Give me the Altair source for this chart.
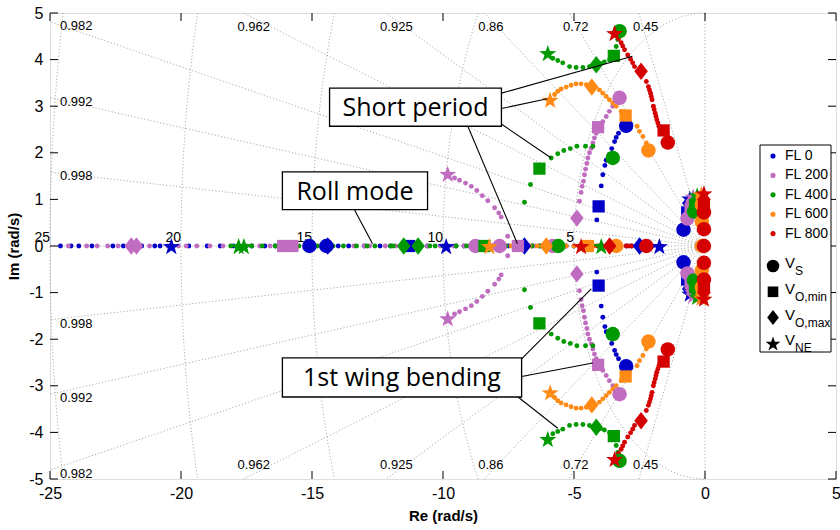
import numpy as np
import pandas as pd
import altair as alt

# plot area size in px
W, H = 786, 466

FLIGHT_LEVELS = ["FL 0", "FL 200", "FL 400", "FL 600", "FL 800"]
FL_COLORS = ["#0000c8", "#c06cc0", "#009a00", "#ff8a14", "#d50000"]
SPEEDS = ["V_S", "V_O,min", "V_O,max", "V_NE"]
MARKER_SIZE = {"V_S": 210, "V_O,min": 150, "V_O,max": 300, "V_NE": 320}

# ---- root-locus dots, upper half plane and real axis (Re, Im); conjugates added below
LOCUS_FL0 = [(-3.30, 2.42), (-3.39, 2.33), (-3.45, 2.24), (-3.56, 2.09), (-3.65, 1.96), (-3.77, 1.84),
             (-3.82, 1.73), (-3.90, 1.53), (-3.96, 1.29), (-4.13, 0.56),
             (-24.6, 0), (-24.2, 0), (-23.9, 0), (-23.4, 0), (-22.6, 0), (-22.2, 0), (-21.5, 0), (-21.0, 0),
             (-20.8, 0), (-19.7, 0), (-19.0, 0), (-18.5, 0), (-18.0, 0), (-17.3, 0), (-16.8, 0), (-16.4, 0),
             (-14.0, 0), (-13.6, 0), (-13.0, 0), (-12.4, 0), (-12.0, 0), (-11.0, 0), (-10.6, 0), (-9.5, 0),
             (-9.2, 0), (-8.9, 0), (-8.6, 0), (-8.1, 0), (-7.8, 0), (-7.5, 0), (-7.0, 0), (-6.6, 0),
             (-6.3, 0), (-5.6, 0), (-5.3, 0), (-5.0, 0), (-4.6, 0), (-4.3, 0), (-4.0, 0), (-3.6, 0),
             (-3.3, 0), (-3.0, 0), (-2.8, 0), (-2.2, 0), (-2.0, 0),
             (-0.78, 0.45), (-0.74, 0.55), (-0.70, 0.65), (-0.66, 0.80), (-0.62, 0.92)]
LOCUS_FL200 = [(-3.52, 3.00), (-3.65, 2.89), (-3.77, 2.78), (-3.90, 2.67), (-4.15, 2.42), (-4.22, 2.32),
               (-4.28, 2.21), (-4.34, 2.10), (-4.41, 2.00), (-4.47, 1.89), (-4.51, 1.77), (-4.56, 1.65),
               (-4.60, 1.53), (-4.64, 1.39), (-4.69, 1.28), (-4.73, 1.15), (-4.79, 0.96),
               (-9.56, 1.46), (-9.37, 1.41), (-9.14, 1.35), (-8.92, 1.28), (-8.71, 1.19), (-8.50, 1.08),
               (-8.29, 0.97), (-8.03, 0.82), (-7.87, 0.71), (-7.78, 0.62), (-7.53, 0.21),
               (-24.3, 0), (-23.6, 0), (-23.2, 0), (-22.8, 0), (-22.4, 0), (-21.2, 0), (-20.5, 0), (-20.1, 0),
               (-19.8, 0), (-19.4, 0), (-18.9, 0), (-18.4, 0), (-17.5, 0), (-17.0, 0), (-16.6, 0), (-16.2, 0),
               (-15.2, 0), (-14.7, 0), (-14.2, 0), (-13.4, 0), (-13.0, 0), (-12.8, 0), (-12.2, 0), (-11.8, 0),
               (-11.3, 0), (-10.6, 0), (-10.1, 0), (-9.6, 0), (-9.2, 0), (-9.0, 0), (-8.5, 0), (-7.6, 0),
               (-7.0, 0), (-6.5, 0), (-6.0, 0), (-5.5, 0), (-5.3, 0)]
LOCUS_FL400 = [(-3.33, 4.43), (-3.39, 4.28), (-3.64, 4.00), (-3.84, 3.95), (-4.00, 3.92), (-4.41, 3.85),
               (-4.66, 3.83), (-4.92, 3.83), (-5.17, 3.85), (-5.43, 3.93), (-5.62, 3.98), (-5.81, 4.03),
               (-4.28, 2.14), (-4.56, 2.14), (-4.89, 2.14), (-5.14, 2.09), (-5.39, 2.05), (-5.62, 1.98),
               (-5.87, 1.89), (-6.66, 1.32), (-6.89, 0.94),
               (-18.1, 0), (-17.3, 0), (-16.9, 0), (-16.4, 0), (-16.0, 0), (-15.5, 0), (-14.8, 0), (-14.2, 0),
               (-13.8, 0), (-13.3, 0), (-12.9, 0), (-12.6, 0), (-12.0, 0), (-11.9, 0), (-11.2, 0), (-10.5, 0),
               (-10.3, 0), (-10.0, 0), (-9.8, 0), (-9.5, 0), (-9.1, 0), (-8.8, 0), (-8.0, 0), (-7.9, 0),
               (-7.6, 0), (-7.3, 0), (-6.6, 0), (-6.3, 0), (-5.9, 0)]
LOCUS_FL600 = [(-2.24, 2.21), (-2.37, 2.35), (-2.50, 2.46), (-2.59, 2.57), (-3.20, 2.89), (-3.39, 3.00),
               (-3.52, 3.07), (-3.65, 3.14), (-3.77, 3.21), (-3.90, 3.28), (-4.03, 3.35), (-4.53, 3.46),
               (-4.73, 3.48), (-4.92, 3.48), (-5.11, 3.45), (-5.30, 3.41), (-5.49, 3.37), (-5.62, 3.32),
               (-5.74, 3.25),
               (-8.0, 0), (-7.7, 0), (-7.4, 0), (-7.2, 0), (-6.9, 0), (-6.7, 0), (-6.4, 0), (-6.2, 0),
               (-5.8, 0), (-5.5, 0), (-5.3, 0), (-5.0, 0), (-4.8, 0), (-4.6, 0), (-4.2, 0), (-4.0, 0),
               (-3.9, 0), (-3.7, 0)]
LOCUS_FL800 = [(-1.71, 2.50), (-1.76, 2.57), (-1.80, 2.64), (-1.84, 2.71), (-1.87, 2.78), (-1.90, 2.85),
               (-1.94, 2.93), (-1.97, 3.00), (-2.02, 3.14), (-2.05, 3.21), (-2.08, 3.28), (-2.12, 3.35),
               (-2.16, 3.42), (-2.24, 3.53), (-2.69, 3.85), (-2.76, 3.93), (-2.84, 4.01),
               (-2.95, 4.10), (-3.07, 4.21), (-3.14, 4.29), (-3.20, 4.36), (-3.30, 4.45),
               (-4.5, 0), (-4.3, 0), (-4.1, 0), (-3.9, 0), (-3.7, 0), (-3.6, 0), (-3.4, 0),
               (-3.2, 0), (-3.0, 0), (-2.9, 0), (-2.8, 0), (-2.6, 0), (-2.5, 0), (-2.4, 0)]

# ---- flight-envelope speeds: (Re, Im) for each speed, upper half plane and real axis
MARK_FL0 = {"V_S": [(-3.01, 2.58), (-0.82, 0.35), (-15.1, 0), (-14.45, 0)],
            "V_O,min": [(-4.06, 0.85), (-11.3, 0), (-0.68, 0.72)],
            "V_O,max": [(-6.89, 0), (-2.50, 0), (-14.4, 0), (-0.62, 0.92)],
            "V_NE": [(-9.88, 0), (-1.74, 0), (-20.37, 0), (-0.58, 1.02)]}
MARK_FL200 = {"V_S": [(-3.26, 3.18), (-0.67, 0.59), (-8.76, 0), (-7.84, 0), (-5.81, 0)],
              "V_O,min": [(-4.08, 2.55), (-7.14, 0), (-16.1, 0), (-15.75, 0), (-0.55, 0.80)],
              "V_O,max": [(-4.89, 0.60), (-21.9, 0), (-21.7, 0), (-0.50, 0.96)],
              "V_NE": [(-9.82, 1.55), (-0.45, 1.06)]}
MARK_FL400 = {"V_S": [(-3.26, 4.61), (-3.52, 1.89), (-0.42, 0.74), (-5.6, 0)],
              "V_O,min": [(-3.48, 4.08), (-6.32, 1.66), (-8.42, 0), (-0.38, 0.88)],
              "V_O,max": [(-4.15, 3.89), (-11.5, 0), (-10.95, 0), (-0.33, 0.99)],
              "V_NE": [(-6.00, 4.14), (-17.8, 0), (-17.6, 0), (-3.96, 0), (-0.30, 1.09)]}
MARK_FL600 = {"V_S": [(-2.16, 2.05), (-3.39, 0), (-0.12, 0.88), (-0.12, 0.52), (-0.12, 0.0)],
              "V_O,min": [(-3.03, 2.80), (-4.47, 0), (-0.12, 0.98)],
              "V_O,max": [(-4.32, 3.41), (-6.06, 0), (-0.12, 1.04)],
              "V_NE": [(-5.91, 3.14), (-8.23, 0), (-0.14, 1.11)]}
MARK_FL800 = {"V_S": [(-1.42, 2.22), (-2.24, 0), (-0.04, 0.0), (-0.04, 0.36), (-0.04, 0.72)],
              "V_O,min": [(-1.58, 2.48), (-0.04, 0.88)],
              "V_O,max": [(-2.44, 3.75), (-3.64, 0), (-0.04, 1.00)],
              "V_NE": [(-3.45, 4.57), (-4.73, 0), (-0.04, 1.13)]}

LOCI = [LOCUS_FL0, LOCUS_FL200, LOCUS_FL400, LOCUS_FL600, LOCUS_FL800]
MARKS = [MARK_FL0, MARK_FL200, MARK_FL400, MARK_FL600, MARK_FL800]

# s-plane grid
ZETAS = [0.998, 0.992, 0.982, 0.962, 0.925, 0.86, 0.72, 0.45]
WNS = [5, 10, 15, 20, 25]
XMIN, XMAX, YMIN, YMAX = -25, 5, -5, 5

# annotation boxes: label, Re-left, Re-right, Im-top, Im-bottom
BOXES = [("Short period", -14.33, -7.77, 3.39, 2.57),
         ("Roll mode", -16.13, -10.59, 1.59, 0.78),
         ("1st wing bending", -16.13, -7.00, -2.40, -3.24)]
# leader lines: start (Re, Im) -> end (Re, Im)
LEADERS = [(-7.77, 3.28, -2.77, 4.07), (-7.77, 2.95, -6.02, 3.16), (-7.86, 2.65, -5.87, 1.89),
           (-9.06, 2.58, -7.16, 0.05), (-13.38, 0.78, -12.69, 0.05),
           (-7.00, -2.42, -4.34, -0.92), (-7.00, -2.80, -4.28, -2.51), (-7.16, -3.23, -5.62, -3.91)]


def conj(points):
    out = list(points)
    out += [(r, -i) for r, i in points if i != 0]
    return out


dot_rows, mark_rows = [], []
for fl, locus, marks in zip(FLIGHT_LEVELS, LOCI, MARKS):
    for r, i in conj(locus):
        dot_rows.append({"re": r, "im": i, "fl": fl})
    for sp in SPEEDS:
        for r, i in conj(marks[sp]):
            mark_rows.append({"re": r, "im": i, "fl": fl, "speed": sp, "sz": MARKER_SIZE[sp]})
dots = pd.DataFrame(dot_rows)
marks_df = pd.DataFrame(mark_rows)

# grid geometry
grid_rows = []
label_rows = []
for k, z in enumerate(ZETAS):
    c, s = -z, np.sqrt(1 - z * z)
    t = min(XMIN / c, YMAX / s)
    xe, ye = c * t, s * t
    for sign in (1, -1):
        gid = f"z{k}{sign}"
        grid_rows.append({"re": 0.0, "im": 0.0, "g": gid, "o": 0})
        grid_rows.append({"re": xe, "im": sign * ye, "g": gid, "o": 1})
        edge = "left" if abs(xe - XMIN) < 1e-6 else "top"
        label_rows.append({"re": xe, "im": sign * ye, "t": f"{z:g}", "edge": edge, "sign": sign})
for sign in (1, -1):
    grid_rows.append({"re": 0.0, "im": 0.0, "g": f"v{sign}", "o": 0})
    grid_rows.append({"re": 0.0, "im": sign * YMAX, "g": f"v{sign}", "o": 1})
grid_rows.append({"re": 0.0, "im": 0.0, "g": "h", "o": 0})
grid_rows.append({"re": XMIN, "im": 0.0, "g": "h", "o": 1})
for wn in WNS:
    a0 = np.arcsin(min(1.0, YMAX / wn))
    ang = np.linspace(np.pi - a0, np.pi + a0, 181)
    for j, a in enumerate(ang):
        grid_rows.append({"re": wn * np.cos(a), "im": wn * np.sin(a), "g": f"w{wn}", "o": j})
grid = pd.DataFrame(grid_rows)
zlab = pd.DataFrame(label_rows)
wlab = pd.DataFrame({"re": [-w for w in WNS], "im": [0.0] * len(WNS), "t": [str(w) for w in WNS]})

xs = alt.Scale(domain=[XMIN, XMAX], nice=False, zero=False)
ys = alt.Scale(domain=[YMIN, YMAX], nice=False, zero=False)
FONT = "Liberation Sans, Arial, sans-serif"

X = alt.X("re:Q", scale=xs, axis=alt.Axis(
    values=list(range(-25, 6, 5)), labelExpr="'' + datum.value", tickSize=0, domain=False, grid=False,
    labelFont=FONT, labelFontSize=16, labelColor="black", labelPadding=6, labelFlush=False,
    title="Re (rad/s)", titleFont=FONT, titleFontSize=15, titleFontWeight="bold",
    titleColor="black", titlePadding=7))
Y = alt.Y("im:Q", scale=ys, axis=alt.Axis(
    values=list(range(-5, 6)), labelExpr="'' + datum.value", tickSize=0, domain=False, grid=False,
    labelFont=FONT, labelFontSize=16, labelColor="black", labelPadding=7, labelFlush=False,
    title="Im (rad/s)", titleFont=FONT, titleFontSize=15, titleFontWeight="bold",
    titleColor="black", titlePadding=7))

color = alt.Color("fl:N", scale=alt.Scale(domain=FLIGHT_LEVELS, range=FL_COLORS), legend=None)


def star_path(inner=0.40):
    pts = []
    for k in range(10):
        r = 1.0 if k % 2 == 0 else inner
        a = -np.pi / 2 + k * np.pi / 5
        pts.append((r * np.cos(a), r * np.sin(a) + 0.1))
    return "M" + "L".join(f"{x:.3f},{y:.3f}" for x, y in pts) + "Z"


DIAMOND = "M0,-1L0.78,0L0,1L-0.78,0Z"
STAR = star_path()
shape = alt.Shape("speed:N", scale=alt.Scale(type="ordinal", domain=SPEEDS,
                                             range=["circle", "square", DIAMOND, STAR]), legend=None)
size = alt.Size("sz:Q", scale=None)

grid_layer = alt.Chart(grid).mark_line(color="#8f8f8f", strokeWidth=0.8, strokeDash=[1.1, 2.2]).encode(
    x=X, y=Y, detail="g:N", order="o:Q")
zt = zlab[zlab.edge == "top"]
zlab_top = alt.Chart(zt[zt.sign > 0]).mark_text(
    align="left", baseline="middle", dx=-6, dy=14, font=FONT, fontSize=13, color="black").encode(
    x="re:Q", y="im:Q", text="t:N")
zlab_bot = alt.Chart(zt[zt.sign < 0]).mark_text(
    align="left", baseline="middle", dx=-6, dy=-14, font=FONT, fontSize=13, color="black").encode(
    x="re:Q", y="im:Q", text="t:N")
zl = zlab[zlab.edge == "left"]
zlab_left = alt.Chart(zl).mark_text(
    align="left", baseline="middle", dx=10, dy=4, font=FONT, fontSize=13, color="black").encode(
    x="re:Q", y="im:Q", text="t:N")
wlab_layer = alt.Chart(wlab).mark_text(
    align="right", baseline="bottom", dy=-1, font=FONT, fontSize=14, color="black").encode(
    x="re:Q", y="im:Q", text="t:N")

dot_layer = alt.Chart(dots).mark_point(filled=True, opacity=1, size=24, shape="circle").encode(
    x="re:Q", y="im:Q", color=color)
mark_layer = alt.Chart(marks_df).mark_point(filled=True, opacity=1).encode(
    x="re:Q", y="im:Q", color=color, shape=shape, size=size)

boxes = pd.DataFrame(BOXES, columns=["t", "re", "re2", "im", "im2"])
boxes["rc"] = (boxes.re + boxes.re2) / 2
boxes["ic"] = (boxes.im + boxes.im2) / 2
leaders = pd.DataFrame(LEADERS, columns=["re", "im", "re2", "im2"])
leader_layer = alt.Chart(leaders).mark_rule(color="black", strokeWidth=1.1).encode(
    x="re:Q", y="im:Q", x2="re2:Q", y2="im2:Q")
box_layer = alt.Chart(boxes).mark_rect(fill="white", stroke="black", strokeWidth=1.3).encode(
    x="re:Q", x2="re2:Q", y="im:Q", y2="im2:Q")
box_text = alt.Chart(boxes).mark_text(font="Open Sans", fontSize=25, color="black", baseline="middle",
                                      dy=1).encode(x="rc:Q", y="ic:Q", text="t:N")

# inward ticks on all four sides
xt = pd.DataFrame({"re": list(range(-25, 6, 5))})
yt = pd.DataFrame({"im": list(range(-5, 6))})
TL = 8
ticks = [
    alt.Chart(xt).mark_rule(color="black").encode(x="re:Q", y=alt.value(H), y2=alt.value(H - TL)),
    alt.Chart(xt).mark_rule(color="black").encode(x="re:Q", y=alt.value(0), y2=alt.value(TL)),
    alt.Chart(yt).mark_rule(color="black").encode(y="im:Q", x=alt.value(0), x2=alt.value(TL)),
    alt.Chart(yt).mark_rule(color="black").encode(y="im:Q", x=alt.value(W), x2=alt.value(W - TL)),
]

# legend drawn inside the axes
LEG_X0, LEG_Y0 = 710, 132
leg_fl = pd.DataFrame({"t": FLIGHT_LEVELS, "fl": FLIGHT_LEVELS,
                       "py": [LEG_Y0 + 11 + 19.4 * k for k in range(5)]})
leg_sp = pd.DataFrame({"speed": SPEEDS, "main": ["V"] * 4, "sub": ["S", "O,min", "O,max", "NE"],
                       "sz": [MARKER_SIZE[s] * 0.75 for s in SPEEDS],
                       "py": [LEG_Y0 + 121 + 25.8 * k for k in range(4)]})
leg_box = alt.Chart(pd.DataFrame({"a": [0]})).mark_rect(fill="white", stroke="black", strokeWidth=1).encode(
    x=alt.value(LEG_X0), x2=alt.value(LEG_X0 + 71), y=alt.value(LEG_Y0), y2=alt.value(LEG_Y0 + 207))
leg_dots = alt.Chart(leg_fl).mark_point(filled=True, opacity=1, size=26, shape="circle").encode(
    x=alt.value(LEG_X0 + 13), y=alt.Y("py:Q", scale=None), color=color)
leg_fl_text = alt.Chart(leg_fl).mark_text(align="left", baseline="middle", font=FONT,
                                          fontSize=14, color="black").encode(
    x=alt.value(LEG_X0 + 25), y=alt.Y("py:Q", scale=None), text="t:N")
leg_sym = alt.Chart(leg_sp).mark_point(filled=True, opacity=1, color="black").encode(
    x=alt.value(LEG_X0 + 13), y=alt.Y("py:Q", scale=None), shape=shape, size=size)
leg_v = alt.Chart(leg_sp).mark_text(align="left", baseline="middle", font=FONT,
                                    fontSize=15, color="black", dy=-3).encode(
    x=alt.value(LEG_X0 + 25), y=alt.Y("py:Q", scale=None), text="main:N")
leg_sub = alt.Chart(leg_sp).mark_text(align="left", baseline="middle", font=FONT,
                                      fontSize=12, color="black", dy=5).encode(
    x=alt.value(LEG_X0 + 35), y=alt.Y("py:Q", scale=None), text="sub:N")

main = alt.Chart(pd.DataFrame({"re": [XMIN, XMAX], "im": [YMIN, YMAX]})).mark_point(opacity=0).encode(x=X, y=Y)

chart = alt.layer(
    main, grid_layer, zlab_top, zlab_bot, zlab_left, wlab_layer, dot_layer, mark_layer,
    leader_layer, box_layer, box_text, *ticks,
    leg_box, leg_dots, leg_fl_text, leg_sym, leg_v, leg_sub,
).properties(
    width=W, height=H,
    autosize=alt.AutoSizeParams(type="none"),
    padding={"left": 50, "top": 13, "right": 4, "bottom": 51},
).configure_view(stroke="black", strokeWidth=1.2).configure(background="white")

chart.save("out.html", embed_options={"renderer": "svg", "actions": False})
